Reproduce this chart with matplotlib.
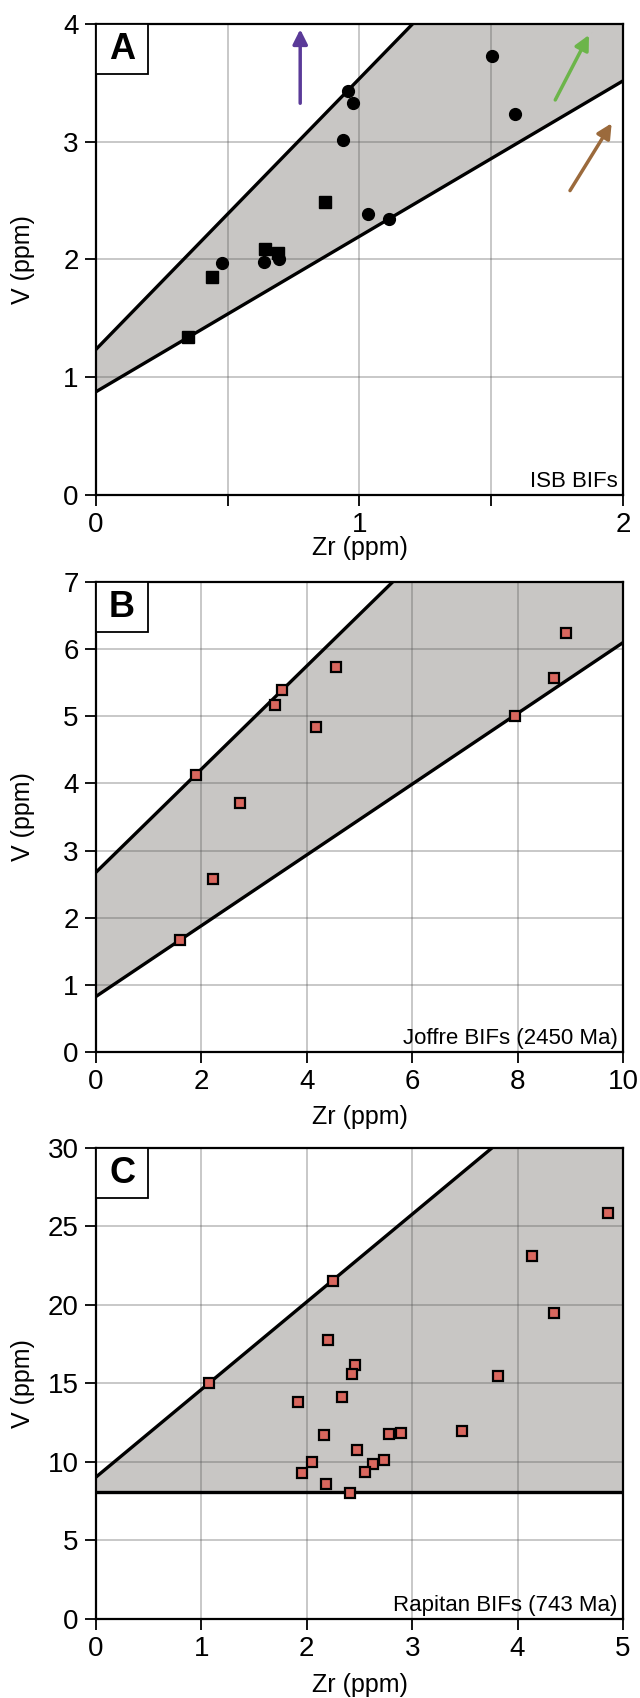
import matplotlib
matplotlib.use('Agg')
import matplotlib.pyplot as plt
import numpy as np
from matplotlib.patches import Rectangle

plt.rcParams['font.family'] = ['Liberation Sans', 'DejaVu Sans']

# ---- panel A : ISB BIFs (black circles + squares)
a_circ_zr = [0.480, 0.637, 0.696, 0.938, 0.955, 0.977, 1.031, 1.112, 1.504, 1.592]
a_circ_v = [1.970, 1.976, 2.000, 3.012, 3.434, 3.327, 2.389, 2.341, 3.731, 3.233]
a_sq_zr = [0.349, 0.439, 0.640, 0.691, 0.871]
a_sq_v = [1.339, 1.854, 2.086, 2.058, 2.486]

# arrows in panel A (tail -> head)
arrow_tail_zr = [0.775, 1.743, 1.799]
arrow_tail_v = [3.327, 3.355, 2.585]
arrow_head_zr = [0.775, 1.871, 1.957]
arrow_head_v = [3.955, 3.907, 3.157]
arrow_colors = ['#5a3a98', '#6cb54a', '#9b6a3c']

# ---- panel B : Joffre BIFs
b_zr = [1.587, 1.897, 2.222, 2.742, 3.400, 3.532, 4.174, 4.546, 7.955, 8.699, 8.924]
b_v = [1.670, 4.129, 2.583, 3.708, 5.161, 5.394, 4.839, 5.736, 5.002, 5.572, 6.247]

# ---- panel C : Rapitan BIFs
c_zr = [1.072, 2.245, 4.857, 4.134, 4.346, 2.198, 2.457, 2.427, 3.816, 1.916, 2.334,
        2.160, 2.782, 2.895, 3.475, 2.477, 2.736, 2.631, 2.047, 1.951, 2.555, 2.183, 2.411]
c_v = [15.03, 21.55, 25.88, 23.10, 19.51, 17.80, 16.20, 15.63, 15.48, 13.82, 14.14,
       11.70, 11.76, 11.85, 12.00, 10.79, 10.11, 9.90, 9.98, 9.30, 9.39, 8.60, 8.05]

# band limits (intercept, slope) for each panel
band_lo = {'A': (0.877, 1.32), 'B': (0.827, 0.527), 'C': (8.1, 0.0)}
band_hi = {'A': (1.237, 2.30), 'B': (2.677, 0.768), 'C': (9.04, 5.58)}

panel_names = ['A', 'B', 'C']
panel_notes = ['ISB BIFs', 'Joffre BIFs (2450 Ma)', 'Rapitan BIFs (743 Ma)']
x_max = [2, 10, 5]
y_max = [4, 7, 30]
x_step = [0.5, 2, 1]
y_step = [1, 1, 5]

fill_col = '#c8c6c4'
sq_col = '#d9675e'

fig = plt.figure(figsize=(6.4, 16.98), dpi=100)
ax_pos = [[0.15, 0.70848, 0.8234, 0.27739],
          [0.15, 0.38045, 0.8234, 0.2768],
          [0.15, 0.046525, 0.8234, 0.27739]]
xlab_off = [-0.113, -0.138, -0.140]

for i, name in enumerate(panel_names):
    ax = fig.add_axes(ax_pos[i])
    xs = np.linspace(0, x_max[i], 50)
    lo = band_lo[name][0] + band_lo[name][1] * xs
    hi = band_hi[name][0] + band_hi[name][1] * xs
    ax.fill_between(xs, lo, hi, color=fill_col, lw=0, zorder=1)
    ax.plot(xs, lo, color='black', lw=2.4, zorder=2)
    ax.plot(xs, hi, color='black', lw=2.4, zorder=2)

    if name == 'A':
        ax.plot(a_circ_zr, a_circ_v, 'o', color='black', ms=8.5, zorder=3)
        ax.plot(a_sq_zr, a_sq_v, 's', color='black', ms=8, zorder=3)
        for k in range(len(arrow_colors)):
            ax.annotate('', xy=(arrow_head_zr[k], arrow_head_v[k]),
                        xytext=(arrow_tail_zr[k], arrow_tail_v[k]),
                        arrowprops=dict(arrowstyle='-|>', color=arrow_colors[k],
                                        lw=2.5, mutation_scale=22, shrinkA=0, shrinkB=0),
                        zorder=4)
    elif name == 'B':
        ax.plot(b_zr, b_v, 's', mfc=sq_col, mec='black', mew=1.6, ms=7.5, zorder=3)
    else:
        ax.plot(c_zr, c_v, 's', mfc=sq_col, mec='black', mew=1.6, ms=7.5, zorder=3)

    ax.set_xlim(0, x_max[i])
    ax.set_ylim(0, y_max[i])
    xt = np.arange(0, x_max[i] + 1e-9, x_step[i])
    ax.set_xticks(xt)
    if name == 'A':
        ax.set_xticklabels(['0', '', '1', '', '2'])
    else:
        ax.set_xticklabels([str(int(v)) for v in xt])
    yt = np.arange(0, y_max[i] + 1e-9, y_step[i])
    ax.set_yticks(yt)
    ax.set_yticklabels([str(int(v)) for v in yt])

    ax.grid(True, color='#555555', alpha=0.38, lw=1.2)
    ax.tick_params(direction='out', length=8, width=1.3, labelsize=20, pad=4.5)
    for s in ax.spines.values():
        s.set_linewidth(1.6)

    ax.set_xlabel('Zr (ppm)', fontsize=18)
    ax.set_ylabel('V (ppm)', fontsize=18)
    ax.xaxis.label.set_va('center')
    ax.xaxis.set_label_coords(0.5, xlab_off[i])
    ax.yaxis.set_label_coords(-0.138, 0.5)
    ax.yaxis.label.set_va('center')

    ax.text(0.99, 0.017, panel_notes[i], transform=ax.transAxes,
            ha='right', va='baseline', fontsize=16)

    box = Rectangle((0, 1 - 0.107), 0.099, 0.107, transform=ax.transAxes,
                    facecolor='white', edgecolor='black', lw=1.3, zorder=5, clip_on=False)
    ax.add_patch(box)
    ax.text(0.0495, 1 - 0.0535, name, transform=ax.transAxes, ha='center', va='center',
            fontsize=26, fontweight='bold', zorder=6)

fig.savefig('out.png', dpi=100)
